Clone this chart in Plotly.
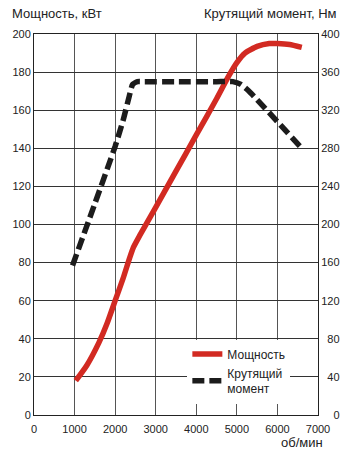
import plotly.graph_objects as go

# Power curve (kW, left axis)
power_rpm = [1030, 1300, 1600, 1800, 2000, 2200, 2350, 2450, 2600, 3000, 3500, 4000,
             4500, 4800, 5000, 5200, 5500, 5800, 6000, 6300, 6600]
power_kw = [18, 26, 38, 48, 60, 72, 82, 88, 94, 109, 128, 147,
            166, 178, 185, 190, 193.5, 195, 195, 194.5, 193]

# Torque curve (Nm, right axis)
torque_rpm = [950, 1500, 2000, 2200, 2350, 2430, 2550, 2700, 3500, 4500, 4900,
              5100, 5300, 5500, 6000, 6600]
torque_nm = [157, 222, 282, 310, 335, 347, 350, 350, 350, 350, 350,
             347, 340, 331, 308, 280]

x_ticks = [0, 1000, 2000, 3000, 4000, 5000, 6000, 7000]
y_ticks = [0, 20, 40, 60, 80, 100, 120, 140, 160, 180, 200]
y2_ticks = [0, 40, 80, 120, 160, 200, 240, 280, 320, 360, 400]

# right-axis labels right-aligned using figure spaces
y2_text = ["\u2007" * (3 - len(str(v))) + str(v) for v in y2_ticks]

red = "#d22a22"
black = "#1c1c1c"
txt = "#222222"
font_family = "Liberation Sans, Arial, sans-serif"

fig = go.Figure()
fig.add_trace(go.Scatter(
    x=torque_rpm, y=torque_nm, yaxis="y2", mode="lines",
    name="Крутящий<br>момент", legendrank=2,
    line=dict(color=black, width=5.5, dash="12px,5px", shape="spline", smoothing=0.5),
))
fig.add_trace(go.Scatter(
    x=power_rpm, y=power_kw, mode="lines",
    name="Мощность", legendrank=1,
    line=dict(color=red, width=5.5, shape="spline", smoothing=0.5),
))

fig.update_layout(
    width=352, height=462,
    margin=dict(l=30, r=29, t=34, b=47),
    paper_bgcolor="white", plot_bgcolor="white",
    font=dict(family=font_family, color=txt, size=11),
    showlegend=True,
    legend=dict(
        x=0.54, y=0.198, xanchor="left", yanchor="top",
        bgcolor="white", borderwidth=0,
        font=dict(size=12, color=txt),
        tracegroupgap=0,
    ),
    xaxis=dict(
        range=[0, 7000], tickvals=x_ticks, ticktext=[str(v) for v in x_ticks],
        showgrid=True, gridcolor="#555555", gridwidth=1,
        showline=True, linecolor="#222222", linewidth=1, mirror=True,
        zeroline=False, ticks="", tickfont=dict(size=11, color=txt),
        ticklabelstandoff=4,
    ),
    yaxis=dict(
        range=[0, 200], tickvals=y_ticks,
        showgrid=True, gridcolor="#333333", gridwidth=1,
        showline=True, linecolor="#222222", linewidth=1,
        zeroline=False, ticks="", tickfont=dict(size=11, color=txt),
    ),
    yaxis2=dict(
        range=[0, 400], tickvals=y2_ticks, ticktext=y2_text,
        overlaying="y", side="right",
        showgrid=False, showline=True, linecolor="#222222", linewidth=1,
        zeroline=False, ticks="", tickfont=dict(size=11, color=txt),
    ),
    annotations=[
        dict(text="Мощность, кВт", xref="paper", yref="paper", x=-0.085, y=1.03,
             xanchor="left", yanchor="bottom", showarrow=False,
             font=dict(size=13, color=txt)),
        dict(text="Крутящий момент, Нм", xref="paper", yref="paper", x=1.075, y=1.03,
             xanchor="right", yanchor="bottom", showarrow=False,
             font=dict(size=13, color=txt)),
        dict(text="об/мин", xref="paper", yref="paper", x=1.025, y=-0.047,
             xanchor="right", yanchor="top", showarrow=False,
             font=dict(size=13, color=txt)),
    ],
)

fig.write_html("out.html")
